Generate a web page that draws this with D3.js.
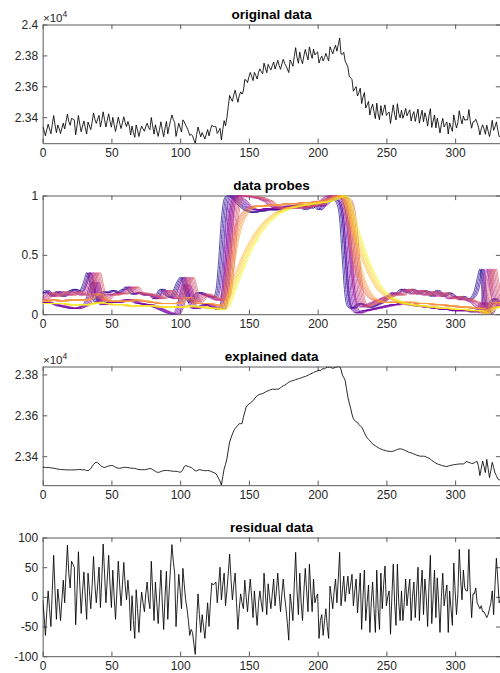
<!DOCTYPE html>
<html>
<head>
<meta charset="utf-8">
<script src="https://cdnjs.cloudflare.com/ajax/libs/d3/7.8.5/d3.min.js"></script>
<style>
  body { margin: 0; background: #fff; }
  svg { display: block; font-family: "Liberation Sans", Arial, Helvetica, sans-serif; }
</style>
</head>
<body>
<div id="canvas"></div>
<script>
// explained part of the signal, one value per sample (0..333)
var explained = [
  23345,23346,23345,23344,23345,23344,23343,23342,23341,23340,
  23338,23337,23336,23335,23335,23334,23334,23333,23333,23333,
  23333,23333,23333,23333,23333,23334,23335,23335,23334,23333,
  23334,23332,23330,23329,23333,23340,23350,23360,23367,23370,
  23368,23362,23355,23350,23346,23345,23347,23350,23352,23354,
  23354,23354,23350,23346,23343,23341,23341,23342,23344,23345,
  23346,23345,23344,23343,23342,23341,23341,23340,23338,23336,
  23335,23334,23334,23334,23334,23335,23336,23338,23340,23338,
  23334,23330,23326,23322,23321,23322,23325,23328,23329,23330,
  23330,23330,23329,23328,23327,23326,23326,23326,23325,23323,
  23321,23325,23335,23350,23354,23352,23349,23347,23345,23340,
  23334,23329,23328,23332,23334,23333,23331,23330,23329,23329,
  23330,23329,23327,23324,23321,23318,23314,23305,23290,23278,
  23258,23300,23338,23360,23387,23430,23469,23490,23508,23525,
  23535,23543,23552,23559,23559,23560,23590,23616,23640,23649,
  23655,23660,23665,23672,23680,23690,23695,23700,23703,23705,
  23706,23710,23714,23718,23720,23723,23726,23728,23728,23727,
  23728,23728,23730,23735,23740,23745,23747,23752,23757,23762,
  23766,23768,23770,23772,23775,23777,23779,23781,23783,23786,
  23788,23790,23793,23796,23800,23803,23806,23810,23813,23815,
  23818,23821,23818,23825,23829,23826,23833,23837,23835,23838,
  23833,23830,23832,23836,23837,23839,23838,23825,23797,23785,
  23772,23730,23690,23660,23635,23605,23583,23575,23568,23565,
  23555,23548,23543,23530,23515,23500,23490,23482,23475,23468,
  23460,23455,23451,23446,23442,23438,23435,23432,23430,23428,
  23426,23425,23424,23423,23423,23425,23427,23430,23433,23435,
  23436,23435,23433,23430,23427,23424,23420,23418,23416,23414,
  23411,23408,23405,23403,23401,23400,23400,23400,23399,23396,
  23393,23390,23385,23379,23375,23370,23366,23362,23360,23358,
  23355,23353,23352,23350,23349,23352,23353,23355,23357,23358,
  23359,23360,23361,23362,23362,23362,23362,23366,23374,23372,
  23370,23367,23364,23365,23368,23372,23374,23350,23305,23340,
  23376,23350,23320,23384,23340,23295,23330,23370,23345,23318,
  23305,23289,23285,23281
];

// residual part, one value per sample (0..333)
var residual = [
  -5,-30,-65,-25,10,-20,-50,10,70,10,
  -38,13,-10,-40,-5,28,-10,40,87,40,
  15,60,55,50,-47,10,76,20,-28,10,
  42,0,-38,40,10,-20,20,68,20,-10,
  20,50,-18,30,89,40,-10,30,70,20,
  -18,45,0,-38,10,60,20,-15,20,58,
  20,-5,28,0,-57,2,-40,-70,12,-20,
  -60,-20,8,-10,-25,5,25,-5,-20,60,
  10,-40,25,-10,-45,0,45,-10,-55,0,
  43,-38,10,50,88,60,40,-50,-5,38,
  10,-20,48,20,-5,-20,-40,-65,-55,-60,
  -80,-97,-40,5,-30,-60,-30,-50,-70,-40,
  -10,-50,-10,23,20,22,25,-10,20,50,
  -5,20,40,-15,10,40,72,30,-5,20,
  40,-10,-55,-20,5,-10,-20,28,0,-25,
  5,30,0,-35,10,-20,-48,-10,10,-10,
  -25,40,5,-30,22,0,-20,5,30,-15,
  10,40,5,-25,5,30,0,-20,-45,-73,
  5,-15,-40,20,75,10,-30,40,-10,-40,
  10,48,10,-25,55,10,-25,30,-10,0,
  5,-70,-40,-30,-65,-40,-20,-50,-70,18,
  0,-20,10,30,-10,30,75,-15,10,35,
  -8,15,35,5,20,38,-15,10,30,-27,
  5,40,-55,0,45,-40,-10,20,-60,-10,
  25,-20,-60,45,-20,-55,40,-20,20,52,
  -15,0,10,-63,0,55,-10,-48,55,-10,
  -40,10,-40,-10,30,-15,10,30,-40,0,
  25,-35,10,50,-40,10,45,-30,30,0,
  -50,20,70,-45,0,45,-35,32,-10,-60,
  0,40,-15,5,20,-60,10,-20,-48,57,
  10,-30,5,80,30,-5,45,15,10,10,
  80,10,-35,5,5,15,-10,-15,-20,-15,
  -25,-25,-30,-35,-30,-20,-10,10,-30,20,
  65,30,-10,-5
];

// probe shapes, one value every 2 samples (0,2,...,334)
var probeBlue = [
  0.18,0.20,0.17,0.15,0.18,0.19,0.16,0.15,0.17,0.19,
  0.20,0.21,0.20,0.19,0.22,0.28,0.35,0.28,0.15,0.10,
  0.12,0.17,0.19,0.18,0.19,0.20,0.19,0.18,0.20,0.21,
  0.23,0.20,0.17,0.17,0.18,0.18,0.17,0.16,0.17,0.16,
  0.13,0.14,0.20,0.21,0.17,0.15,0.14,0.17,0.23,0.28,
  0.31,0.25,0.15,0.10,0.12,0.16,0.18,0.18,0.17,0.16,
  0.15,0.15,0.14,0.20,0.45,0.80,0.97,1.00,0.99,0.97,
  0.95,0.92,0.90,0.88,0.87,0.86,0.86,0.86,0.87,0.87,
  0.87,0.88,0.88,0.88,0.88,0.88,0.89,0.89,0.90,0.90,
  0.90,0.90,0.91,0.92,0.90,0.88,0.91,0.89,0.92,0.90,
  0.88,0.90,0.95,0.97,0.99,0.97,0.96,0.93,0.80,0.45,
  0.15,0.06,0.05,0.06,0.08,0.09,0.08,0.07,0.06,0.06,
  0.07,0.08,0.09,0.10,0.12,0.14,0.16,0.18,0.17,0.19,
  0.21,0.20,0.18,0.20,0.21,0.19,0.17,0.18,0.20,0.19,
  0.17,0.15,0.18,0.20,0.17,0.15,0.16,0.18,0.17,0.15,
  0.14,0.13,0.15,0.14,0.12,0.13,0.15,0.20,0.30,0.38,
  0.12,0.01,0.08,0.12,0.13,0.11,0.10,0.10
];
var probePurple = [
  0.10,0.10,0.09,0.09,0.08,0.07,0.07,0.06,0.06,0.05,
  0.05,0.05,0.05,0.06,0.07,0.09,0.15,0.24,0.27,0.18,
  0.10,0.08,0.09,0.10,0.10,0.10,0.10,0.10,0.11,0.12,
  0.12,0.12,0.11,0.10,0.09,0.09,0.08,0.08,0.08,0.07,
  0.06,0.05,0.04,0.03,0.02,0.01,0.00,0.00,0.02,0.08,
  0.18,0.25,0.20,0.10,0.05,0.05,0.06,0.07,0.08,0.08,
  0.07,0.06,0.05,0.04,0.04,0.15,0.50,0.85,0.97,1.00,
  0.99,0.97,0.95,0.92,0.90,0.89,0.88,0.88,0.88,0.88,
  0.89,0.89,0.89,0.89,0.90,0.90,0.90,0.90,0.91,0.91,
  0.91,0.91,0.92,0.92,0.91,0.90,0.92,0.91,0.93,0.92,
  0.91,0.92,0.94,0.96,0.98,1.00,0.99,0.97,0.93,0.80,
  0.50,0.20,0.06,0.02,0.01,0.02,0.03,0.03,0.04,0.04,
  0.05,0.05,0.06,0.06,0.07,0.07,0.08,0.08,0.08,0.09,
  0.09,0.09,0.08,0.08,0.08,0.07,0.07,0.07,0.06,0.06,
  0.06,0.05,0.05,0.05,0.04,0.04,0.04,0.04,0.03,0.03,
  0.03,0.03,0.03,0.03,0.03,0.02,0.02,0.03,0.05,0.10,
  0.05,0.00,0.03,0.08,0.10,0.10,0.09,0.09
];
var probePink = [
  0.12,0.14,0.16,0.18,0.17,0.15,0.16,0.18,0.19,0.17,
  0.16,0.17,0.19,0.18,0.17,0.16,0.18,0.24,0.32,0.35,
  0.26,0.15,0.11,0.13,0.16,0.17,0.16,0.17,0.18,0.17,
  0.18,0.20,0.22,0.23,0.20,0.17,0.18,0.17,0.16,0.17,
  0.16,0.15,0.14,0.13,0.15,0.19,0.20,0.17,0.14,0.13,
  0.16,0.22,0.28,0.31,0.24,0.14,0.10,0.12,0.15,0.17,
  0.16,0.15,0.14,0.13,0.12,0.12,0.14,0.25,0.50,0.78,
  0.93,0.99,1.00,1.00,1.00,0.99,0.99,0.99,0.98,0.98,
  0.97,0.96,0.95,0.93,0.91,0.90,0.89,0.89,0.90,0.90,
  0.89,0.90,0.91,0.90,0.89,0.91,0.90,0.92,0.91,0.93,
  0.92,0.93,0.95,0.97,0.99,1.00,1.00,0.99,0.99,0.98,
  0.97,0.93,0.80,0.55,0.30,0.14,0.08,0.06,0.07,0.08,
  0.09,0.10,0.11,0.12,0.13,0.14,0.15,0.16,0.18,0.17,
  0.16,0.18,0.20,0.21,0.19,0.17,0.18,0.20,0.19,0.17,
  0.16,0.18,0.19,0.17,0.15,0.17,0.18,0.16,0.14,0.13,
  0.14,0.15,0.13,0.12,0.13,0.12,0.11,0.10,0.08,0.05,
  0.01,0.10,0.32,0.38,0.25,0.12,0.08,0.07
];
var probeOrange = [
  0.11,0.11,0.12,0.12,0.12,0.11,0.11,0.11,0.12,0.12,
  0.12,0.12,0.12,0.12,0.12,0.12,0.13,0.15,0.17,0.17,
  0.15,0.13,0.12,0.11,0.11,0.11,0.11,0.11,0.11,0.11,
  0.11,0.11,0.12,0.12,0.12,0.11,0.11,0.11,0.10,0.10,
  0.10,0.09,0.09,0.09,0.09,0.09,0.09,0.09,0.09,0.10,
  0.12,0.14,0.14,0.12,0.10,0.09,0.09,0.09,0.09,0.09,
  0.09,0.08,0.08,0.07,0.07,0.10,0.22,0.38,0.53,0.65,
  0.74,0.80,0.84,0.87,0.89,0.90,0.91,0.91,0.91,0.91,
  0.91,0.92,0.92,0.92,0.92,0.92,0.92,0.93,0.93,0.93,
  0.93,0.93,0.93,0.94,0.94,0.94,0.94,0.94,0.95,0.95,
  0.95,0.95,0.96,0.97,0.98,0.99,1.00,1.00,0.99,0.95,
  0.85,0.70,0.55,0.43,0.34,0.27,0.22,0.18,0.15,0.13,
  0.12,0.11,0.10,0.10,0.10,0.10,0.10,0.10,0.10,0.10,
  0.10,0.10,0.10,0.10,0.10,0.09,0.09,0.09,0.09,0.09,
  0.09,0.08,0.08,0.08,0.08,0.08,0.07,0.07,0.07,0.07,
  0.06,0.06,0.06,0.06,0.06,0.05,0.05,0.05,0.05,0.04,
  0.01,0.03,0.07,0.10,0.10,0.09,0.08,0.08
];
var probeYellow = [
  0.09,0.09,0.09,0.09,0.09,0.09,0.09,0.09,0.08,0.08,
  0.08,0.08,0.08,0.08,0.08,0.08,0.08,0.09,0.09,0.10,
  0.10,0.09,0.09,0.09,0.08,0.08,0.08,0.08,0.08,0.08,
  0.07,0.07,0.07,0.07,0.07,0.07,0.07,0.07,0.07,0.07,
  0.07,0.06,0.06,0.06,0.06,0.06,0.06,0.06,0.06,0.06,
  0.06,0.06,0.07,0.07,0.07,0.06,0.06,0.06,0.06,0.05,
  0.05,0.05,0.05,0.04,0.04,0.05,0.09,0.15,0.22,0.28,
  0.34,0.40,0.46,0.51,0.56,0.60,0.64,0.68,0.71,0.74,
  0.77,0.79,0.81,0.83,0.85,0.86,0.87,0.88,0.89,0.90,
  0.90,0.91,0.91,0.92,0.92,0.92,0.93,0.93,0.93,0.94,
  0.94,0.94,0.95,0.95,0.96,0.97,0.98,0.99,1.00,0.98,
  0.92,0.84,0.75,0.67,0.60,0.53,0.47,0.41,0.36,0.31,
  0.27,0.23,0.20,0.18,0.16,0.14,0.13,0.12,0.11,0.10,
  0.09,0.09,0.08,0.08,0.08,0.07,0.07,0.07,0.07,0.06,
  0.06,0.06,0.06,0.05,0.05,0.05,0.05,0.05,0.04,0.04,
  0.04,0.04,0.04,0.04,0.03,0.03,0.03,0.03,0.03,0.02,
  0.00,0.02,0.04,0.05,0.06,0.06,0.06,0.06
];

// sample offsets of each probe in a family (blue first, yellow last)
var lagBlue = [0, 1, 2, 3];
var lagPurple = [0, 1, 2, 3, 4, 5];
var lagPink = [-3, -2, -1, 0, 1, 2, 3, 4];
var lagOrange = [0, 1, 2, 3, 4, 5];
var lagYellow = [0, 1, 2, 3, 4, 5];

var titles = ["original data", "data probes", "explained data", "residual data"];
var xTicks = [0, 50, 100, 150, 200, 250, 300];
var yTicksOriginal = [23400, 23600, 23800, 24000];
var yLabelsOriginal = ["2.34", "2.36", "2.38", "2.4"];
var yTicksProbes = [0, 0.5, 1];
var yLabelsProbes = ["0", "0.5", "1"];
var yTicksExplained = [23400, 23600, 23800];
var yLabelsExplained = ["2.34", "2.36", "2.38"];
var yTicksResidual = [-100, -50, 0, 50, 100];
var yLabelsResidual = ["-100", "-50", "0", "50", "100"];

// original = explained + residual
var original = explained.map(function (v, i) { return v + residual[i]; });

var fontFamily = '"Liberation Sans", Arial, Helvetica, sans-serif';
var x = d3.scaleLinear().domain([0, 333]).range([42.67, 500.5]);
var panelTop = [24.5, 195.5, 366.5, 537.5];
var panelH = 118.7;

var svg = d3.select("#canvas").append("svg")
    .attr("width", 500)
    .attr("height", 673);

function drawPanel(k, yDomain, yTicks, yLabels, sci) {
    var top = panelTop[k], bottom = top + panelH;
    var x0 = x.range()[0], x1 = x.range()[1];
    var y = d3.scaleLinear().domain(yDomain).range([bottom, top]);

    svg.append("clipPath").attr("id", "clip" + k)
        .append("rect")
        .attr("x", x0).attr("y", top)
        .attr("width", x1 - x0).attr("height", panelH);

    var g = svg.append("g");
    var axes = [
        g.append("g").attr("transform", "translate(0," + bottom + ")")
            .call(d3.axisBottom(x).tickValues(xTicks).tickSizeInner(-4.6).tickSizeOuter(0)
                .tickPadding(5).tickFormat(function (d) { return String(d); })),
        g.append("g").attr("transform", "translate(0," + top + ")")
            .call(d3.axisTop(x).tickValues(xTicks).tickSizeInner(-4.6).tickSizeOuter(0).tickFormat("")),
        g.append("g").attr("transform", "translate(" + x0 + ",0)")
            .call(d3.axisLeft(y).tickValues(yTicks).tickSizeInner(-4.6).tickSizeOuter(0)
                .tickPadding(4.5).tickFormat(function (d, i) { return yLabels[i]; })),
        g.append("g").attr("transform", "translate(" + x1 + ",0)")
            .call(d3.axisRight(y).tickValues(yTicks).tickSizeInner(-4.6).tickSizeOuter(0).tickFormat(""))
    ];
    axes.forEach(function (a) {
        a.attr("font-size", 12).attr("font-family", fontFamily).attr("color", "#262626");
        a.select(".domain").attr("stroke", "#5a5a5a");
        a.selectAll(".tick line").attr("stroke", "#5a5a5a");
    });

    g.append("text")
        .attr("x", (x0 + x1) / 2)
        .attr("y", top - 5.5)
        .attr("text-anchor", "middle")
        .attr("font-size", 13.5)
        .attr("font-weight", "bold")
        .attr("fill", "#000")
        .text(titles[k]);

    if (sci) {
        var t = g.append("text")
            .attr("x", 43)
            .attr("y", top - 2.5)
            .attr("font-size", 11.5)
            .attr("fill", "#262626")
            .text("\u00d710");
        t.append("tspan").attr("dy", -5.5).attr("font-size", 8.5).text("4");
    }

    return {
        y: y,
        plot: svg.append("g").attr("clip-path", "url(#clip" + k + ")")
    };
}

function blackLine(p, values) {
    var line = d3.line()
        .x(function (d, i) { return x(i); })
        .y(function (d) { return p.y(d); });
    p.plot.append("path")
        .datum(values)
        .attr("d", line)
        .attr("fill", "none")
        .attr("stroke", "#000")
        .attr("stroke-width", 0.85);
}

// 1: original data
var p1 = drawPanel(0, [d3.min(original), 24000], yTicksOriginal, yLabelsOriginal, true);
blackLine(p1, original);

// 2: data probes
var p2 = drawPanel(1, [0, 1], yTicksProbes, yLabelsProbes, false);
var probes = [];
[[probeBlue, lagBlue], [probePurple, lagPurple], [probePink, lagPink],
 [probeOrange, lagOrange], [probeYellow, lagYellow]].forEach(function (f) {
    f[1].forEach(function (lag) { probes.push({ shape: f[0], lag: lag }); });
});
var color = function (i) { return d3.interpolatePlasma(i / (probes.length - 1)); };
var probeLine = d3.line()
    .curve(d3.curveMonotoneX)
    .x(function (d) { return x(d[0]); })
    .y(function (d) { return p2.y(d[1]); });
p2.plot.selectAll(".probe")
    .data(probes)
    .enter()
    .append("path")
    .attr("class", "probe")
    .attr("d", function (d) {
        var pts = d.shape.map(function (v, i) { return [i * 2 + d.lag, v]; });
        if (d.lag > 0) pts.unshift([0, d.shape[0]]);
        if (pts[pts.length - 1][0] < 333) pts.push([333, d.shape[d.shape.length - 1]]);
        return probeLine(pts);
    })
    .attr("fill", "none")
    .attr("stroke", function (d, i) { return color(i); })
    .attr("stroke-width", 0.7);

// 3: explained data
var p3 = drawPanel(2, d3.extent(explained), yTicksExplained, yLabelsExplained, true);
blackLine(p3, explained);

// 4: residual data
var p4 = drawPanel(3, [-100, 100], yTicksResidual, yLabelsResidual, false);
blackLine(p4, residual);
</script>
</body>
</html>
